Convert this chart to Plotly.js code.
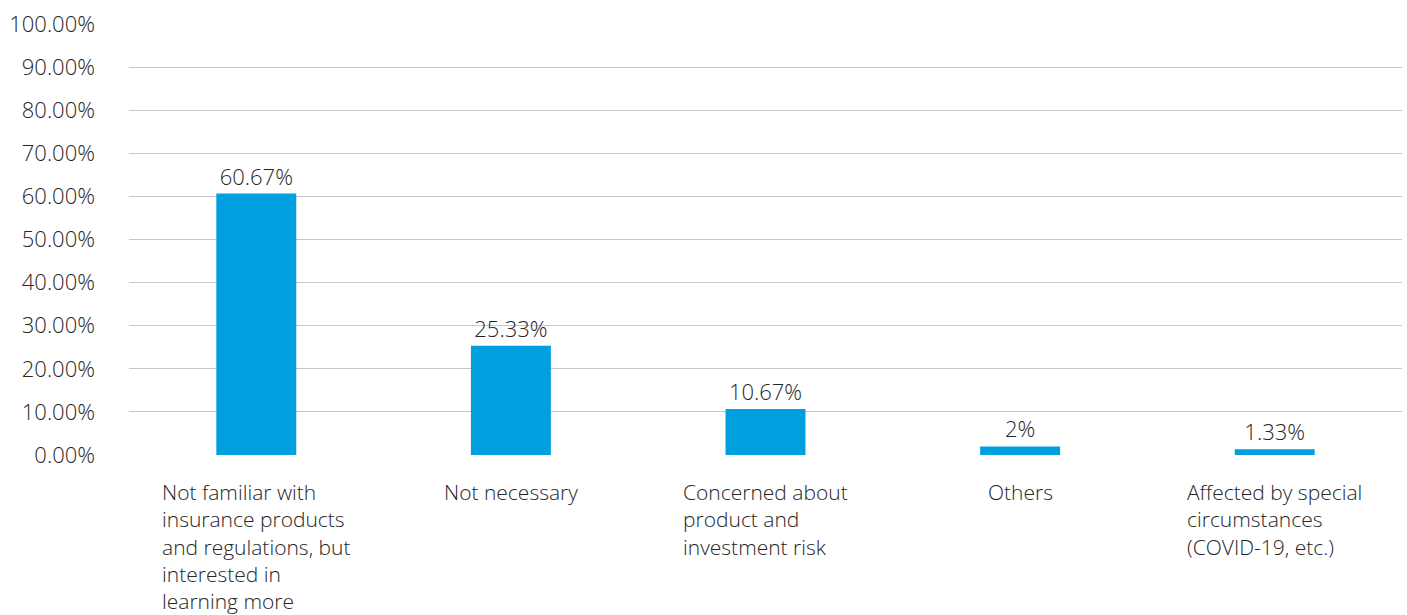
<!DOCTYPE html>
<html>
<head>
<meta charset="utf-8">
<script src="https://cdn.plot.ly/plotly-3.0.1.min.js"></script>
<style>html,body{margin:0;padding:0;background:#fff;}#chart{width:1407px;height:615px;}</style>
</head>
<body>
<div id="chart"></div>
<script>
const categories = [
  "Not familiar with<br>insurance products<br>and regulations, but<br>interested in<br>learning more",
  "Not necessary",
  "Concerned about<br>product and<br>investment risk",
  "Others",
  "Affected by special<br>circumstances<br>(COVID-19, etc.)"
];
const values = [60.67, 25.33, 10.67, 2, 1.33];
const valueLabels = ["60.67%", "25.33%", "10.67%", "2%", "1.33%"];
const yTickVals = [0,10,20,30,40,50,60,70,80,90,100];
const yTickText = ["0.00%","10.00%","20.00%","30.00%","40.00%","50.00%","60.00%","70.00%","80.00%","90.00%","100.00%"];

const font = {family: "Open Sans, sans-serif", size: 22, color: "#262626", weight: 300};
const catFont = {family: "Open Sans, sans-serif", size: 21, color: "#262626", weight: 300};

const trace = {
  type: "bar",
  x: categories,
  y: values,
  text: valueLabels,
  textposition: "outside",
  textfont: font,
  cliponaxis: false,
  marker: {color: "#009fe0"},
  hoverinfo: "skip"
};

const annotations = categories.map(c => ({
  x: c, xref: "x", y: 0, yref: "paper",
  yanchor: "top", xanchor: "center", align: "left",
  yshift: -21, showarrow: false, text: c, font: catFont
}));

const layout = {
  width: 1407, height: 615,
  margin: {l: 129, r: 5, t: 24, b: 160},
  paper_bgcolor: "#fff", plot_bgcolor: "#fff",
  bargap: 0.686,
  showlegend: false,
  font: font,
  xaxis: {type: "category", showticklabels: false, showgrid: false, zeroline: false, showline: false, ticks: ""},
  yaxis: {range: [0, 100], tickvals: yTickVals, ticktext: yTickText, showgrid: true,
          gridcolor: "#c8c8c8", gridwidth: 1, zeroline: false, showline: false,
          ticks: "", ticklabelstandoff: 33, tickfont: font},
  annotations: annotations
};

Plotly.newPlot("chart", [trace], layout, {displayModeBar: false, staticPlot: true});
</script>
</body>
</html>
